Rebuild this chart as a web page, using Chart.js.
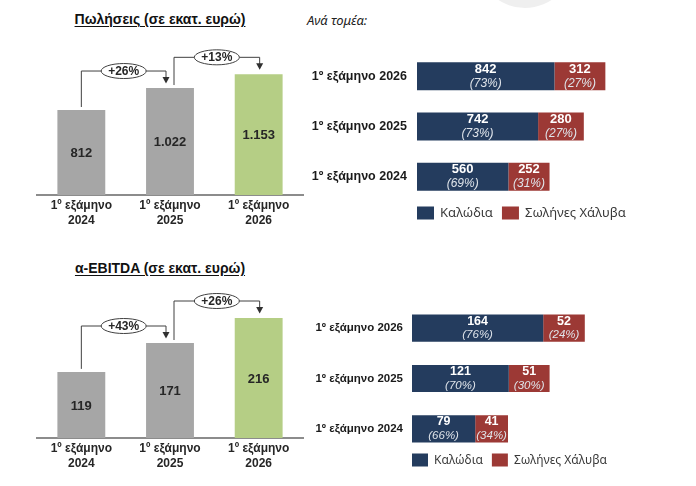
<!DOCTYPE html>
<html>
<head>
<meta charset="utf-8">
<script src="https://cdn.jsdelivr.net/npm/chart.js@4/dist/chart.umd.min.js"></script>
<style>
  html, body { margin: 0; padding: 0; background: #fff; }
  #page { position: relative; width: 696px; height: 486px; overflow: hidden; }
  canvas { position: absolute; }
  .title {
    position: absolute; left: 0; width: 320px; text-align: center;
    font: bold 14px "Liberation Sans", Arial, sans-serif; color: #111;
    text-decoration: underline; text-underline-offset: 2px;
  }
  #byUnit {
    position: absolute; left: 307px; top: 11px;
    font: italic 13px "Noto Sans", sans-serif; color: #222;
  }
  #blob {
    position: absolute; left: 477px; top: -88px; width: 96px; height: 96px;
    border-radius: 50%; background: #efefef;
  }
</style>
</head>
<body>
<div id="page">
  <div id="blob"></div>
  <div class="title" style="top:11px">Πωλήσεις (σε εκατ. ευρώ)</div>
  <div class="title" style="top:260px">α-EBITDA (σε εκατ. ευρώ)</div>
  <div id="byUnit">Ανά τομέα:</div>
  <canvas id="salesTotal" width="310" height="240" style="left:0;top:0"></canvas>
  <canvas id="ebitdaTotal" width="310" height="240" style="left:0;top:245px"></canvas>
  <canvas id="salesSplit" width="390" height="200" style="left:300px;top:40px"></canvas>
  <canvas id="ebitdaSplit" width="390" height="196" style="left:300px;top:290px"></canvas>
</div>
<script>
const periods = [["1º εξάμηνο", "2024"], ["1º εξάμηνο", "2025"], ["1º εξάμηνο", "2026"]];
const salesTotals = [812, 1022, 1153];
const salesGrowth = ["+26%", "+13%"];
const ebitdaTotals = [119, 171, 216];
const ebitdaGrowth = ["+43%", "+26%"];

const splitPeriods = ["1º εξάμηνο 2026", "1º εξάμηνο 2025", "1º εξάμηνο 2024"];
const unitNames = ["Καλώδια", "Σωλήνες Χάλυβα"];
const salesCables = [842, 742, 560];
const salesPipes = [312, 280, 252];
const salesCablesShare = ["73%", "73%", "69%"];
const salesPipesShare = ["27%", "27%", "31%"];
const ebitdaCables = [164, 121, 79];
const ebitdaPipes = [52, 51, 41];
const ebitdaCablesShare = ["76%", "70%", "66%"];
const ebitdaPipesShare = ["24%", "30%", "34%"];

const GREY = "#a6a6a6";
const GREEN = "#b5ce85";
const NAVY = "#243c5e";
const RED = "#9c3935";
const ARIAL = "'Liberation Sans', Arial, sans-serif";

function thousands(v) {
    return String(v).replace(/\B(?=(\d{3})+(?!\d))/g, ".");
}

// value in the middle of each column
const columnValues = {
    id: "columnValues",
    afterDatasetsDraw(chart) {
        const c = chart.ctx;
        const meta = chart.getDatasetMeta(0);
        c.save();
        c.font = "bold 13px " + ARIAL;
        c.fillStyle = "#262626";
        c.textAlign = "center";
        c.textBaseline = "middle";
        meta.data.forEach((bar, i) => {
            const v = chart.data.datasets[0].data[i];
            c.fillText(thousands(v), bar.x, (bar.y + bar.base) / 2 + 1);
        });
        c.restore();
    }
};

// bracket arrows with the growth bubble between columns
const growthArrows = {
    id: "growthArrows",
    afterDatasetsDraw(chart, args, opts) {
        const c = chart.ctx;
        const bars = chart.getDatasetMeta(0).data;
        c.save();
        c.lineWidth = 1;
        opts.labels.forEach((txt, i) => {
            const a = bars[i];
            const b = bars[i + 1];
            const x1 = a.x + (i ? 4 : 0);
            const x2 = b.x + (i + 1 === bars.length - 1 ? 1 : -4);
            const level = Math.min(a.y, b.y) - 17;
            c.strokeStyle = "#404040";
            c.fillStyle = "#303030";
            c.beginPath();
            c.moveTo(x1, a.y - 3);
            c.lineTo(x1, level);
            c.lineTo(x2, level);
            c.lineTo(x2, b.y - 10);
            c.stroke();
            c.beginPath();
            c.moveTo(x2 - 3.5, b.y - 11);
            c.lineTo(x2 + 3.5, b.y - 11);
            c.lineTo(x2, b.y - 4.5);
            c.closePath();
            c.fill();
            const mx = (x1 + x2) / 2;
            c.beginPath();
            c.ellipse(mx, level, 22.5, 7.5, 0, 0, Math.PI * 2);
            c.fillStyle = "#fff";
            c.fill();
            c.stroke();
            c.fillStyle = "#262626";
            c.font = "bold 12px " + ARIAL;
            c.textAlign = "center";
            c.textBaseline = "middle";
            c.fillText(txt, mx, level + 0.5);
        });
        c.restore();
    }
};

function totalsChart(id, totals, growth, yMax, pad) {
    return new Chart(document.getElementById(id), {
        type: "bar",
        data: {
            labels: periods,
            datasets: [{
                data: totals,
                backgroundColor: [GREY, GREY, GREEN],
                barPercentage: 0.54,
                categoryPercentage: 1
            }]
        },
        options: {
            responsive: false,
            animation: false,
            layout: { padding: pad },
            plugins: {
                legend: { display: false },
                tooltip: { enabled: false },
                growthArrows: { labels: growth }
            },
            scales: {
                x: {
                    grid: { display: false, drawTicks: false },
                    border: { color: "#8c8c8c", width: 2 },
                    ticks: {
                        color: "#262626",
                        padding: 3,
                        font: { family: ARIAL, size: 12, weight: "bold", lineHeight: 1.25 }
                    }
                },
                y: { display: false, min: 0, max: yMax }
            }
        },
        plugins: [columnValues, growthArrows]
    });
}

// two-line labels inside the stacked segments
const segmentLabels = {
    id: "segmentLabels",
    afterDatasetsDraw(chart, args, opts) {
        const c = chart.ctx;
        c.save();
        c.textAlign = "center";
        c.textBaseline = "middle";
        chart.data.datasets.forEach((ds, d) => {
            chart.getDatasetMeta(d).data.forEach((bar, i) => {
                const cx = (bar.x + bar.base) / 2;
                c.fillStyle = "#ffffff";
                c.font = "bold " + opts.size + "px " + ARIAL;
                c.fillText(ds.data[i], cx, bar.y - 7);
                c.fillStyle = "#dfe4ea";
                c.font = "italic " + (opts.size - 1) + "px " + ARIAL;
                c.fillText("(" + opts.shares[d][i] + ")", cx, bar.y + 7);
            });
        });
        c.restore();
    }
};

// legend starting at the left edge of the bars
const unitLegend = {
    id: "unitLegend",
    afterDraw(chart, args, opts) {
        const c = chart.ctx;
        const y = chart.chartArea.bottom + opts.offset;
        let x = chart.chartArea.left;
        c.save();
        c.font = opts.size + "px 'Noto Sans', sans-serif";
        c.textBaseline = "middle";
        chart.data.datasets.forEach(ds => {
            c.fillStyle = ds.backgroundColor;
            c.fillRect(x, y - 6.5, opts.box, 13);
            x += opts.box + 6;
            c.fillStyle = "#3a3a3a";
            c.fillText(ds.label, x, y + 0.5);
            x += c.measureText(ds.label).width + 9;
        });
        c.restore();
    }
};

function splitChart(id, cables, pipes, shares, xMax, axisWidth, pad, thick, fontSize, legendOpts) {
    return new Chart(document.getElementById(id), {
        type: "bar",
        data: {
            labels: splitPeriods,
            datasets: [
                { label: unitNames[0], data: cables, backgroundColor: NAVY },
                { label: unitNames[1], data: pipes, backgroundColor: RED }
            ]
        },
        options: {
            indexAxis: "y",
            responsive: false,
            animation: false,
            layout: { padding: pad },
            datasets: { bar: { barPercentage: thick, categoryPercentage: 1 } },
            plugins: {
                legend: { display: false },
                tooltip: { enabled: false },
                segmentLabels: { shares: shares, size: legendOpts.valueSize },
                unitLegend: legendOpts
            },
            scales: {
                x: { display: false, stacked: true, min: 0, max: xMax },
                y: {
                    stacked: true,
                    grid: { display: false, drawTicks: false },
                    border: { display: false },
                    ticks: {
                        color: "#1a1a1a",
                        padding: axisWidth.gap,
                        font: { family: ARIAL, size: fontSize, weight: "bold" }
                    },
                    afterFit(scale) {
                        scale.width = axisWidth.w;
                        scale.paddingTop = 0;
                        scale.paddingBottom = 0;
                    }
                }
            }
        },
        plugins: [segmentLabels, unitLegend]
    });
}

totalsChart("salesTotal", salesTotals, salesGrowth, 1500,
    { left: 37, right: 7, top: 38, bottom: 9 });
totalsChart("ebitdaTotal", ebitdaTotals, ebitdaGrowth, 270,
    { left: 37, right: 7, top: 43, bottom: 11 });

splitChart("salesSplit", salesCables, salesPipes, [salesCablesShare, salesPipesShare],
    1550, { w: 117, gap: 10 }, { left: 0, right: 20, top: 11, bottom: 38 },
    0.555, 12.5, { offset: 11, size: 13, box: 17, valueSize: 13 });
splitChart("ebitdaSplit", ebitdaCables, ebitdaPipes, [ebitdaCablesShare, ebitdaPipesShare],
    330, { w: 112, gap: 9 }, { left: 0, right: 14, top: 13, bottom: 32 },
    0.54, 11.5, { offset: 6, size: 12, box: 16, valueSize: 12.5 });
</script>
</body>
</html>
